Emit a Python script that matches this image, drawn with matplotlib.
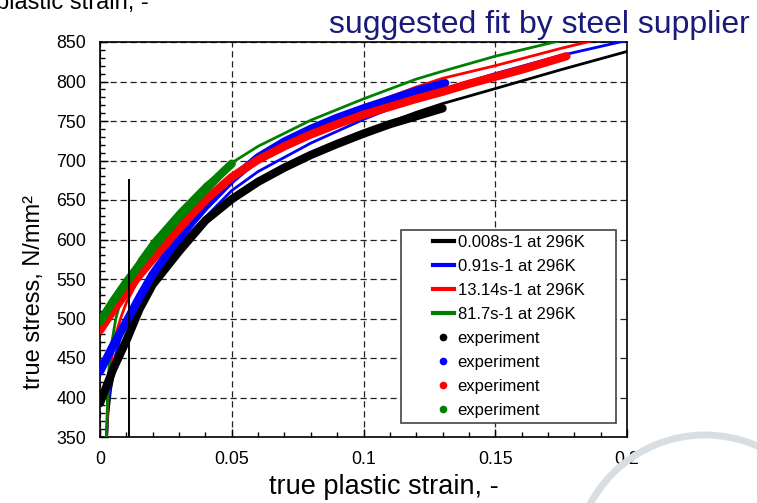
import numpy as np
import matplotlib
matplotlib.use('Agg')
import matplotlib.pyplot as plt
from matplotlib.ticker import MultipleLocator, FormatStrFormatter
from matplotlib.lines import Line2D
from matplotlib.patches import Rectangle, Arc

plt.rcParams['font.family'] = ['Liberation Sans', 'DejaVu Sans']

rate_labels = ['0.008s-1 at 296K', '0.91s-1 at 296K', '13.14s-1 at 296K', '81.7s-1 at 296K']
colors = ['#000000', '#0000ff', '#ff0000', '#008000']

# suggested fits (thin lines), all on the same strain grid
fit_strain = [0.0025, 0.003, 0.004, 0.006, 0.008, 0.01, 0.015, 0.02, 0.03, 0.04,
              0.05, 0.06, 0.08, 0.1, 0.12, 0.13, 0.15, 0.175, 0.2]
fit_black = [350, 380, 410, 445, 465, 480, 512, 540, 586, 622, 650, 672, 707, 736, 761, 772, 791, 815, 838]
fit_blue = [350, 385, 420, 455, 478, 495, 527, 553, 595, 628, 662, 686, 722, 752, 779, 790, 810, 833, 852]
fit_red = [350, 400, 440, 480, 502, 520, 552, 578, 617, 650, 678, 702, 739, 768, 793, 804, 820, 842, 862]
fit_green = [350, 420, 460, 500, 524, 545, 575, 598, 636, 670, 697, 718, 751, 778, 803, 813, 832, 852, 872]

# experiments (thick)
exp_black_x = [0, 0.005, 0.01, 0.015, 0.02, 0.03, 0.04, 0.05, 0.06, 0.07, 0.08, 0.09, 0.1, 0.11, 0.12, 0.13]
exp_black_y = [393, 436, 472, 512, 543, 585, 624, 651, 673, 691, 707, 721, 734, 746, 756, 766]
exp_blue_x = [0, 0.005, 0.01, 0.015, 0.02, 0.03, 0.04, 0.05, 0.06, 0.07, 0.08, 0.09, 0.1, 0.11, 0.12, 0.131]
exp_blue_y = [433, 466, 496, 527, 556, 603, 642, 676, 704, 724, 740, 754, 766, 777, 788, 798]
exp_red_x = [0, 0.005, 0.01, 0.015, 0.02, 0.03, 0.04, 0.05, 0.06, 0.07, 0.08, 0.09, 0.1,
             0.11, 0.12, 0.13, 0.14, 0.15, 0.16, 0.17, 0.177]
exp_red_y = [485, 510, 533, 555, 575, 614, 650, 679, 701, 718, 733, 746, 758,
             768, 778, 787, 797, 806, 815, 825, 832]
exp_green_x = [0, 0.005, 0.01, 0.015, 0.02, 0.025, 0.03, 0.035, 0.04, 0.045, 0.05]
exp_green_y = [496, 522, 546, 568, 589, 609, 628, 646, 663, 680, 696]

# vertical marker line
marker_strain = 0.011
marker_top = 675

fig = plt.figure(figsize=(7.57, 5.03), dpi=100)
ax = fig.add_axes([100 / 757, 1 - 437 / 503, 527 / 757, 395 / 503])

fits = [fit_black, fit_blue, fit_red, fit_green]
for ys, c in zip(fits, colors):
    ax.plot(fit_strain, ys, color=c, lw=2, zorder=3)

exps = [(exp_black_x, exp_black_y), (exp_blue_x, exp_blue_y),
        (exp_red_x, exp_red_y), (exp_green_x, exp_green_y)]
for (xs, ys), c in zip(exps, colors):
    ax.plot(xs, ys, color=c, lw=6, solid_capstyle='round', zorder=4)

ax.plot([marker_strain, marker_strain], [350, marker_top], color='black', lw=1.4, zorder=5)

ax.set_xlim(0, 0.2)
ax.set_ylim(350, 850)
ax.xaxis.set_major_locator(MultipleLocator(0.05))
ax.xaxis.set_minor_locator(MultipleLocator(0.01))
ax.yaxis.set_major_locator(MultipleLocator(50))
ax.yaxis.set_minor_locator(MultipleLocator(10))
ax.xaxis.set_major_formatter(FormatStrFormatter('%g'))
ax.tick_params(which='both', direction='in', labelsize=12.8, pad=10, width=1)
ax.tick_params(which='major', length=6)
ax.tick_params(which='minor', length=3.5)
ax.grid(True, which='major', color='#222222', ls=(0, (5, 3)), lw=0.9)
for s in ax.spines.values():
    s.set_linewidth(1.2)

# legend with a wide frame
handles = [Line2D([], [], color=c, lw=3) for c in colors]
handles += [Line2D([], [], color=c, ls='none', marker='o', ms=4.5) for c in colors]
texts = rate_labels + ['experiment'] * 4
ax.add_patch(Rectangle((301 / 527, 14 / 395), 215 / 527, 193 / 395, transform=ax.transAxes,
                       facecolor='white', edgecolor='#444444', lw=1.2, zorder=6))
ax.legend(handles, texts, loc='center', bbox_to_anchor=(408.5 / 527, 110.5 / 395),
          frameon=False, fontsize=12, handlelength=1.3, handletextpad=0.2,
          labelspacing=0.54, borderpad=0.2).set_zorder(7)

fig.text(750 / 757, 1 - 33 / 503, 'suggested fit by steel supplier', ha='right',
         va='baseline', fontsize=23, color='#1a1a7a')
fig.text(384 / 757, 1 - 487 / 503, 'true plastic strain, -', ha='center', va='center',
         fontsize=19.5)
fig.text(34 / 757, 1 - 292 / 503, 'true stress, N/mm²', ha='center', va='center',
         rotation=90, fontsize=17)
fig.text(-4 / 757, 1 - 9 / 503, 'plastic strain, -', ha='left', va='baseline', fontsize=17)

# watermark ring at the bottom right
fig.patches.append(Arc((705 / 757, 1 - 565 / 503), 260 / 757, 260 / 503,
                       transform=fig.transFigure, color='#d8dee2', lw=5, figure=fig,
                       zorder=0))

fig.savefig('out.png', dpi=100)
